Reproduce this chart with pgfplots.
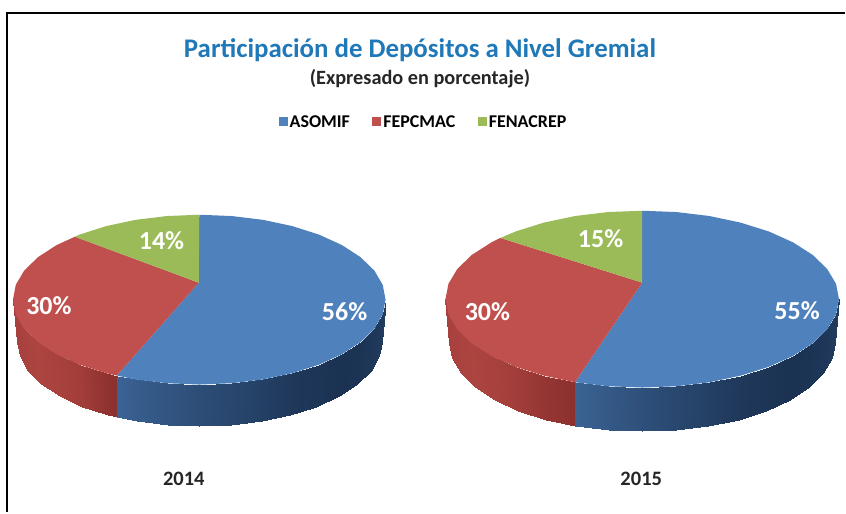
\documentclass[border=0pt]{standalone}
\usepackage{pgfplots}
\pgfplotsset{compat=1.18}
\usepackage{fontspec}
\setmainfont{Carlito}
\definecolor{azul}{HTML}{4F81BD}
\definecolor{rojo}{HTML}{C0504D}
\definecolor{verde}{HTML}{9BBB59}
\definecolor{titulo}{HTML}{1F78B8}
\pgfplotsset{
  colormap={paredazul}{rgb255=(27,50,82) rgb255=(62,104,155)},
  colormap={paredroja}{rgb255=(136,46,44) rgb255=(172,68,64)},
}
\newcommand{\fs}[1]{\fontsize{#1}{#1}\selectfont\bfseries}
\begin{document}
\begin{tikzpicture}
\begin{axis}[
  width=846pt,height=513pt,scale only axis,
  xmin=0,xmax=846,ymin=0,ymax=513,y dir=reverse,
  hide axis,clip=false,
  point meta min=0,point meta max=1,
  legend style={at={(axis cs:424,122)},anchor=center,draw=none,fill=none,
    legend columns=3,font=\fs{18},
    /tikz/every even column/.append style={column sep=20.5pt}},
  legend image code/.code={\fill[#1] (0pt,-4pt) rectangle (9pt,5pt);},
  legend cell align=left,
]
% fondo
\addplot[draw=none,fill=white,forget plot] coordinates {(0,0)(846,0)(846,513)(0,513)} -- cycle;

% 2014 paredes
\addplot[surf,shader=interp,mesh/cols=2,colormap name=paredazul,point meta=explicit,forget plot] table[meta=c] {
x y c
117 376 0.9
117 417 0.9
135.7 379.9 0.8
137.1 421.9 0.8
167.1 383.7 0.65
167.8 425.7 0.65
199.5 385 0.5
199.5 427 0.5
231.9 383.7 0.38
231.2 425.7 0.38
263.3 379.9 0.25
261.9 421.9 0.25
292.8 373.6 0.12
290.8 415.6 0.12
319.4 365.1 0.05
316.8 407.1 0.05
342.4 354.6 0
339.3 396.6 0
361 342.5 0.03
357.5 384.5 0.03
374.8 329.1 0.1
371.1 371.1 0.1
383.2 314.8 0.15
379.3 356.8 0.15
386 300 0.2
382 342 0.2
};
\addplot[surf,shader=interp,mesh/cols=2,colormap name=paredroja,point meta=explicit,forget plot] table[meta=c] {
x y c
13 300 0.85
17 342 0.85
15.8 314.8 0.9
19.7 356.8 0.9
24.2 329.1 0.95
28 371.1 0.95
38 342.5 1
41.5 384.5 1
56.6 354.6 0.9
59.7 396.6 0.9
79.6 365.1 0.7
82.2 407.1 0.7
106.2 373.6 0.2
108.2 415.6 0.2
117 376 0.1
117 417 0.1
};

% 2014 caras
\addplot[draw=none,fill=azul,forget plot] coordinates {
(199,283)(199.5,215)(231.9,216.3)(263.3,220.1)(292.8,226.4)(319.4,234.9)(342.4,245.4)(361,257.5)(374.8,270.9)(383.2,285.2)(386,300)
(383.2,314.8)(374.8,329.1)(361,342.5)(342.4,354.6)(319.4,365.1)(292.8,373.6)(263.3,379.9)(231.9,383.7)(199.5,385)(167.1,383.7)(135.7,379.9)(117,376)
} -- cycle;
\addplot[draw=none,fill=rojo,forget plot] coordinates {
(199,283)(117,376)(106.2,373.6)(79.6,365.1)(56.6,354.6)(38,342.5)(24.2,329.1)(15.8,314.8)(13,300)(15.8,285.2)(24.2,270.9)(38,257.5)(56.6,245.4)(75,237)
} -- cycle;
\addplot[draw=none,fill=verde,forget plot] coordinates {
(199,283)(75,237)(79.6,234.9)(106.2,226.4)(135.7,220.1)(167.1,216.3)(199.5,215)
} -- cycle;

% 2015 paredes
\addplot[surf,shader=interp,mesh/cols=2,colormap name=paredazul,point meta=explicit,forget plot] table[meta=c] {
x y c
575.6 382.7 0.9
575.6 426.7 0.9
608.8 386.7 0.72
609.5 430.7 0.72
643 388 0.55
643 432 0.55
677.2 386.7 0.4
676.5 430.7 0.4
710.4 382.7 0.25
709.1 426.7 0.25
741.5 376.1 0.12
739.5 420.1 0.12
769.6 367.3 0.05
767.1 411.3 0.05
793.9 356.4 0
790.9 400.4 0
813.6 343.8 0.03
810.2 387.8 0.03
828.1 329.8 0.1
824.4 373.8 0.1
837 314.9 0.15
833.1 358.9 0.15
840 299.5 0.2
836 343.5 0.2
};
\addplot[surf,shader=interp,mesh/cols=2,colormap name=paredroja,point meta=explicit,forget plot] table[meta=c] {
x y c
446 299.5 0.85
450 343.5 0.85
449 314.9 0.9
452.9 358.9 0.9
457.9 329.8 0.95
461.6 373.8 0.95
472.4 343.8 1
475.8 387.8 1
492.1 356.4 0.9
495.1 400.4 0.9
516.4 367.3 0.7
518.9 411.3 0.7
544.5 376.1 0.35
546.5 420.1 0.35
575.6 382.7 0.1
575.6 426.7 0.1
};

% 2015 caras
\addplot[draw=none,fill=azul,forget plot] coordinates {
(643,283)(643,211)(677.2,212.3)(710.4,216.3)(741.5,222.9)(769.6,231.7)(793.9,242.6)(813.6,255.2)(828.1,269.2)(837,284.1)(840,299.5)
(837,314.9)(828.1,329.8)(813.6,343.8)(793.9,356.4)(769.6,367.3)(741.5,376.1)(710.4,382.7)(677.2,386.7)(643,388)(608.8,386.7)(575.6,382.7)
} -- cycle;
\addplot[draw=none,fill=rojo,forget plot] coordinates {
(643,283)(575.6,382.7)(544.5,376.1)(516.4,367.3)(492.1,356.4)(472.4,343.8)(457.9,329.8)(449,314.9)(446,299.5)(449,284.1)(457.9,269.2)(472.4,255.2)(492.1,242.6)(501,238.2)
} -- cycle;
\addplot[draw=none,fill=verde,forget plot] coordinates {
(643,283)(501,238.2)(516.4,231.7)(544.5,222.9)(575.6,216.3)(608.8,212.3)(643,211)
} -- cycle;

% marco
\addplot[black,line width=2pt,forget plot] coordinates {(7,513)(7,13)(846,13)};

% leyenda
\addplot[draw=none,fill=azul] coordinates {(199,283)};
\addlegendentry{ASOMIF}
\addplot[draw=none,fill=rojo] coordinates {(199,283)};
\addlegendentry{FEPCMAC}
\addplot[draw=none,fill=verde] coordinates {(199,283)};
\addlegendentry{FENACREP}

% textos
\node[text=titulo,font=\fs{26.9}] at (axis cs:420.5,50) {Participación de Depósitos a Nivel Gremial};
\node[text=black!85,font=\fs{20.3}] at (axis cs:420.5,79) {(Expresado en porcentaje)};
\node[white,font=\fs{26}] at (axis cs:161.7,240.7) {14\%};
\node[white,font=\fs{26}] at (axis cs:49,306) {30\%};
\node[white,font=\fs{26}] at (axis cs:345,311.7) {56\%};
\node[white,font=\fs{26}] at (axis cs:601.3,239) {15\%};
\node[white,font=\fs{26}] at (axis cs:488,311.7) {30\%};
\node[white,font=\fs{26}] at (axis cs:798,311) {55\%};
\node[text=black!85,font=\fs{20.5}] at (axis cs:184,479) {2014};
\node[text=black!85,font=\fs{20.5}] at (axis cs:642,479) {2015};
\end{axis}
\end{tikzpicture}
\end{document}
